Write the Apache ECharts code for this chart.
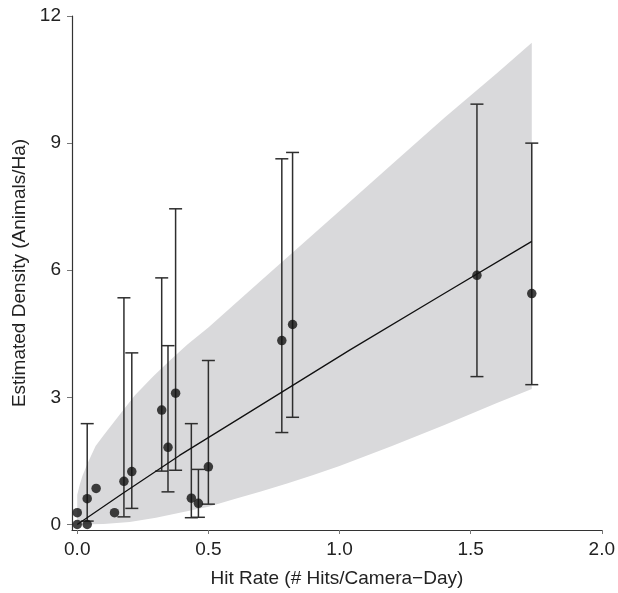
<!DOCTYPE html>
<html>
<head>
<meta charset="utf-8">
<script src="https://cdn.jsdelivr.net/npm/echarts@6/dist/echarts.min.js"></script>
<style>
html,body{margin:0;padding:0;background:#fff;}
#chart{width:618px;height:593px;}
</style>
</head>
<body>
<div id="chart"></div>
<script>
// Observed sites: hit rate vs estimated density, with CI bars (null = no bar)
const hitRate = [0.000, 0.038, 0.000, 0.038, 0.072, 0.142, 0.178, 0.208, 0.322, 0.346, 0.375, 0.435, 0.462, 0.500, 0.780, 0.821, 1.524, 1.733];
const density = [0.00, 0.00, 0.28, 0.61, 0.85, 0.28, 1.02, 1.25, 2.70, 1.82, 3.10, 0.62, 0.50, 1.36, 4.34, 4.72, 5.88, 5.45];
const ciLow   = [null, null, null, 0.08, null, null, 0.18, 0.38, 1.26, 0.77, 1.28, 0.16, 0.17, 0.48, 2.17, 2.53, 3.49, 3.30];
const ciHigh  = [null, null, null, 2.38, null, null, 5.35, 4.05, 5.82, 4.22, 7.45, 2.38, 1.30, 3.87, 8.63, 8.78, 9.92, 9.00];

// Fitted curve
const fitX = [0.00, 0.17, 0.39, 0.62, 1.04, 1.38, 1.733];
const fitY = [0.00, 0.72, 1.63, 2.51, 4.12, 5.38, 6.68];

// Prediction band edges
const bandUpperX = [0.00, 0.01, 0.02, 0.04, 0.07, 0.10, 0.16, 0.22, 0.29, 0.35, 0.42, 0.50, 0.70, 1.00, 1.20, 1.40, 1.60, 1.733];
const bandUpperY = [0.70, 0.95, 1.15, 1.45, 1.85, 2.10, 2.58, 3.05, 3.50, 3.85, 4.25, 4.65, 5.75, 7.40, 8.50, 9.60, 10.65, 11.37];
const bandLowerX = [0.00, 0.10, 0.20, 0.30, 0.40, 0.50, 0.60, 0.70, 0.80, 0.90, 1.00, 1.20, 1.40, 1.60, 1.733];
const bandLowerY = [0.00, 0.01, 0.06, 0.16, 0.29, 0.42, 0.60, 0.78, 0.97, 1.17, 1.38, 1.85, 2.35, 2.87, 3.20];

const xTicks = [0, 0.5, 1.0, 1.5, 2.0];
const yTicks = [0, 3, 6, 9, 12];

const FONT = "'Liberation Sans', Arial, Helvetica, sans-serif";
const chart = echarts.init(document.getElementById('chart'), null, {renderer: 'canvas'});

const pointData = hitRate.map((x, i) => [x, density[i]]);
const barData = [];
hitRate.forEach((x, i) => { if (ciLow[i] !== null) barData.push([x, ciLow[i], ciHigh[i]]); });
const fitData = fitX.map((x, i) => [x, fitY[i]]);

chart.setOption({
  animation: false,
  backgroundColor: '#ffffff',
  grid: {left: 72, right: 15, top: 16, bottom: 61},
  xAxis: {
    type: 'value', min: -0.02, max: 2.0,
    axisLine: {show: true, onZero: false, lineStyle: {color: '#333', width: 1.2}},
    axisTick: {show: true, customValues: xTicks, length: 4, inside: false, lineStyle: {color: '#777', width: 1}},
    axisLabel: {customValues: xTicks, formatter: v => v.toFixed(1), fontSize: 19, margin: 10, color: '#222', fontFamily: FONT},
    splitLine: {show: false},
    name: 'Hit Rate (# Hits/Camera\u2212Day)', nameLocation: 'middle', nameGap: 39,
    nameTextStyle: {fontSize: 19, color: '#222', fontFamily: FONT}
  },
  yAxis: {
    type: 'value', min: -0.13, max: 12,
    axisLine: {show: true, onZero: false, lineStyle: {color: '#333', width: 1.2}},
    axisTick: {show: true, customValues: yTicks, length: 5, inside: false, lineStyle: {color: '#777', width: 1}},
    axisLabel: {customValues: yTicks, fontSize: 19, margin: 11, color: '#222', fontFamily: FONT},
    splitLine: {show: false},
    name: 'Estimated Density (Animals/Ha)', nameLocation: 'middle', nameGap: 37, nameRotate: 90,
    nameTextStyle: {fontSize: 19, color: '#222', fontFamily: FONT}
  },
  series: [
    {
      type: 'custom', name: 'band', silent: true, z: 1,
      data: [[0, 0]],
      renderItem: function (params, api) {
        const pts = [];
        for (let i = 0; i < bandUpperX.length; i++) pts.push(api.coord([bandUpperX[i], bandUpperY[i]]));
        for (let i = bandLowerX.length - 1; i >= 0; i--) pts.push(api.coord([bandLowerX[i], bandLowerY[i]]));
        return {type: 'polygon', shape: {points: pts}, style: {fill: '#d9d9db', stroke: null}};
      }
    },
    {
      type: 'custom', name: 'ci', silent: true, z: 2,
      data: barData,
      encode: {x: 0, y: [1, 2]},
      renderItem: function (params, api) {
        const x = api.value(0);
        const top = api.coord([x, api.value(2)]);
        const bot = api.coord([x, api.value(1)]);
        const hw = 6.5;
        const st = {stroke: '#2e2e2e', lineWidth: 1.5};
        return {
          type: 'group',
          children: [
            {type: 'line', shape: {x1: top[0], y1: top[1], x2: bot[0], y2: bot[1]}, style: st},
            {type: 'line', shape: {x1: top[0] - hw, y1: top[1], x2: top[0] + hw, y2: top[1]}, style: st},
            {type: 'line', shape: {x1: bot[0] - hw, y1: bot[1], x2: bot[0] + hw, y2: bot[1]}, style: st}
          ]
        };
      }
    },
    {
      type: 'line', name: 'fit', z: 3, silent: true,
      data: fitData, showSymbol: false, smooth: false,
      lineStyle: {color: '#111', width: 1.3}
    },
    {
      type: 'scatter', name: 'sites', z: 4,
      data: pointData, symbol: 'circle', symbolSize: 9.5,
      itemStyle: {color: '#111'}
    }
  ]
});
</script>
</body>
</html>
